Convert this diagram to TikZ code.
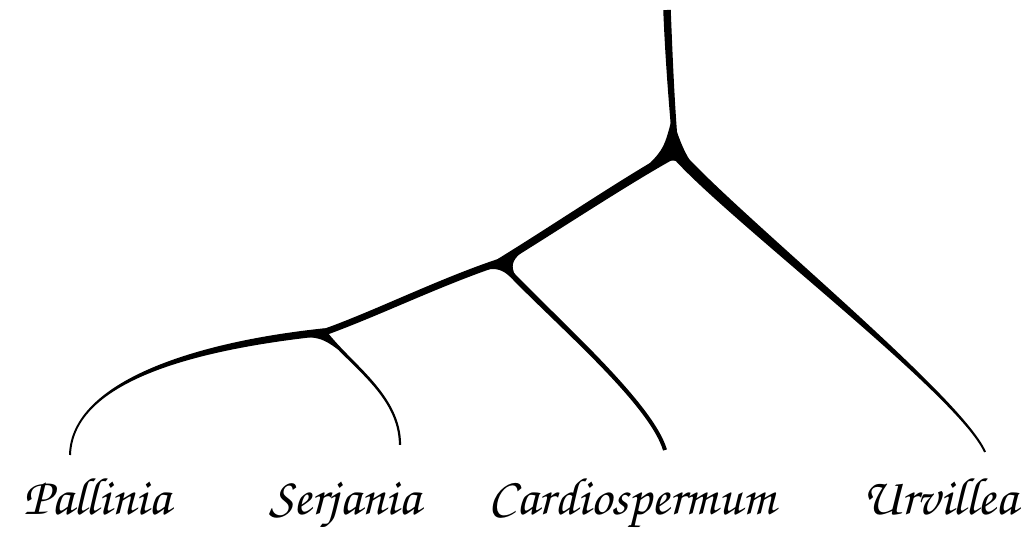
\documentclass[tikz,border=0pt]{standalone}
\usepackage[T1]{fontenc}
\usetikzlibrary{calc}

% script face for the genus names
\newcommand{\genusfont}{\fontfamily{pzc}\fontseries{mb}\fontshape{it}\fontsize{30}{30}\selectfont}

% tapered branch: start, control 1, control 2, end, half width at start, half width at end
\newcommand{\branch}[6]{%
  \fill ($(#1)!#5!90:(#2)$) .. controls ($(#2)!#5!-90:(#1)$) and ($(#3)!#6!90:(#4)$) .. ($(#4)!#6!-90:(#3)$)
     -- ($(#4)!#6!90:(#3)$) .. controls ($(#3)!#6!-90:(#4)$) and ($(#2)!#5!90:(#1)$) .. ($(#1)!#5!-90:(#2)$) -- cycle;}

% flared fork: fork, three points on its branches, and how far each side is pushed out
\newcommand{\fork}[7]{%
  \path ($(#2)!0.5!(#3)$) coordinate (m12) ($(#3)!0.5!(#4)$) coordinate (m23) ($(#4)!0.5!(#2)$) coordinate (m31);
  \path ($(#1)!#5!(m12)$) coordinate (c12) ($(#1)!#6!(m23)$) coordinate (c23) ($(#1)!#7!(m31)$) coordinate (c31);
  \fill (#2) .. controls (c12) .. (#3) .. controls (c23) .. (#4) .. controls (c31) .. (#2) -- cycle;}

\begin{document}
\begin{tikzpicture}[x=0.02cm,y=-0.02cm,
  genus/.style={anchor=base,font=\genusfont}]
  \useasboundingbox (0,0) rectangle (1024,543);
  % forks and tips
  \coordinate (top) at (667,10);
  \coordinate (j1) at (676,153);
  \coordinate (j2) at (500,262);
  \coordinate (j3) at (325,332);
  \coordinate (tipP) at (70,455);
  \coordinate (tipS) at (400,445);
  \coordinate (tipC) at (665,450);
  \coordinate (tipU) at (985,452);
  % branches
  \branch{top}{669,60}{672,110}{j1}{0.075cm}{0.055cm}
  \branch{j1}{630,178}{560,225}{j2}{0.085cm}{0.075cm}
  \branch{j1}{730,215}{960,395}{tipU}{0.11cm}{0.02cm}
  \branch{j2}{440,282}{380,312}{j3}{0.07cm}{0.065cm}
  \branch{j2}{545,312}{650,400}{tipC}{0.055cm}{0.04cm}
  \branch{j3}{200,345}{72,380}{tipP}{0.075cm}{0.02cm}
  \branch{j3}{350,365}{400,395}{tipS}{0.035cm}{0.022cm}
  \fork{j1}{672,118}{632,180}{708,188}{0.52}{0}{0.59}
  \fork{j2}{547,233}{458,278}{522,288}{0.47}{0.13}{0.2}
  \fork{j3}{367,316}{280,337}{344,354}{0.47}{0.33}{-0.16}
  % names
  \node[genus] (pallinia) at (97,515) {Pallinia};
  \node[genus] (serjania) at (345,515) {Serjania};
  \node[genus] (cardio) at (632,515) {Cardiospermum};
  \node[genus] (urvillea) at (940,515) {Urvillea};
\end{tikzpicture}
\end{document}
